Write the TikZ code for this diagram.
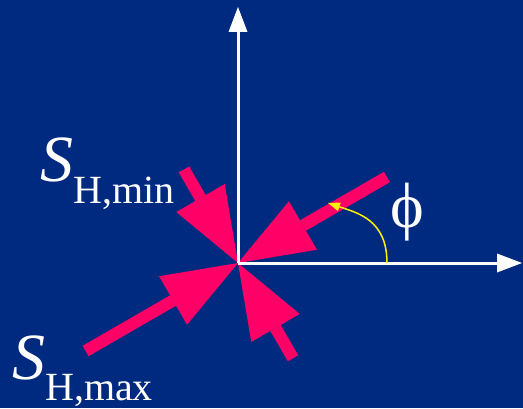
\documentclass[tikz,border=0pt]{standalone}
\usepackage{fontspec}
\setmainfont{Liberation Serif}
\usetikzlibrary{arrows.meta,calc}
\definecolor{slideblue}{RGB}{0,42,127}
\definecolor{stresspink}{RGB}{255,0,102}

\begin{document}
\begin{tikzpicture}[x=1pt, y=1pt,
  axis/.style={white, line width=3pt, -{Triangle[length=25pt, width=19pt, line width=0pt]}},
  stress/.style={stresspink, line width=12pt, -{Triangle[length=75pt, width=56pt, line width=0pt]}},
  angarr/.style={yellow, line width=1.5pt, -{Triangle[length=12pt, width=9pt, line width=0pt]}},
  lab/.style={white, inner sep=0pt, anchor=base west}]
\fill[slideblue] (0,0) rectangle (523,408);
\useasboundingbox (0,0) rectangle (523,408);
\coordinate (O) at (238,145);
\coordinate (ytip) at (238,401);
\coordinate (xtip) at (522,145);
\foreach \a/\r in {30/172,210/176,120/108,300/110}
  \draw[stress] ($(O)+(\a:\r)$) -- (O);
\draw[axis] (O) -- (ytip);
\draw[axis] (O) -- (xtip);
\coordinate (angA) at (387,145);
\coordinate (angB) at (328,205);
\draw[angarr] (angA) .. controls (387,188) and (358,195) .. (angB);
\node[white, inner sep=0pt] (phi) at (407,196) {\fontsize{64}{64}\selectfont ϕ};
\node[lab] (smin) at (40,226) {\fontsize{66}{66}\selectfont\itshape S\raisebox{-22pt}{\fontsize{40}{40}\selectfont\upshape H,min}};
\node[lab] (smax) at (12,29) {\fontsize{66}{66}\selectfont\itshape S\raisebox{-21pt}{\fontsize{40}{40}\selectfont\upshape H,max}};
\end{tikzpicture}
\end{document}
